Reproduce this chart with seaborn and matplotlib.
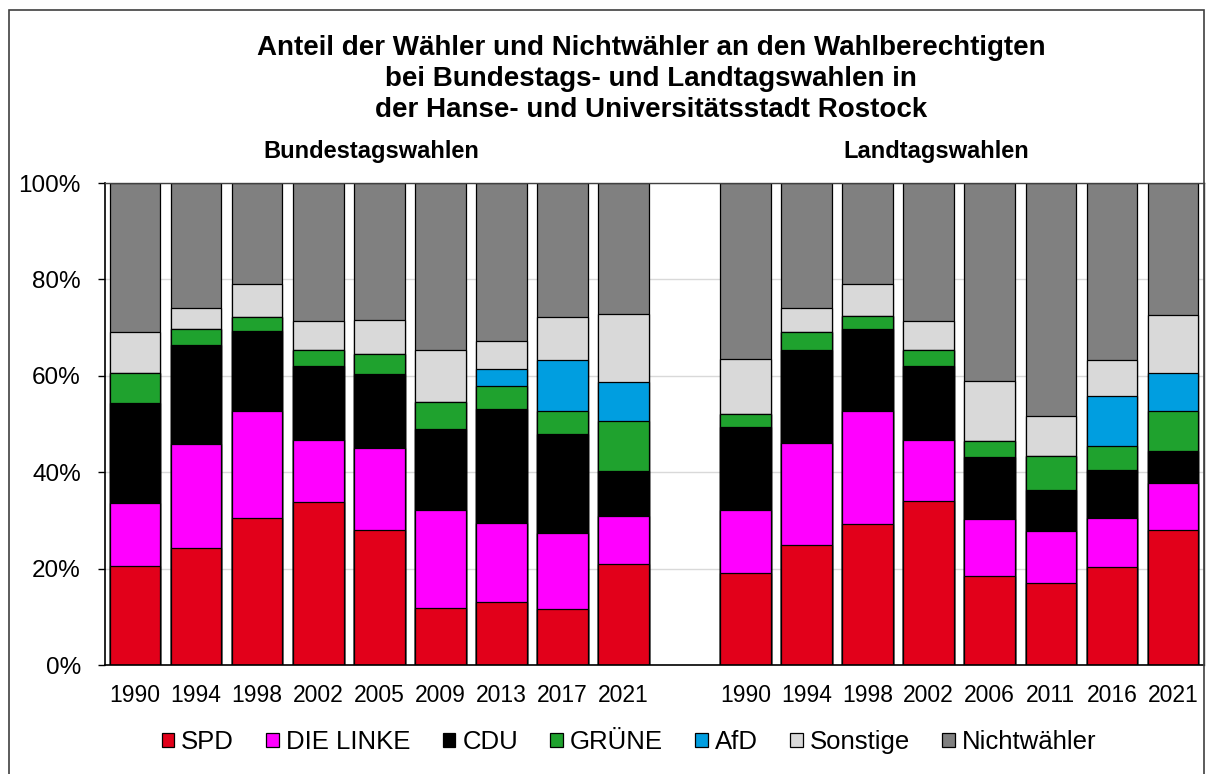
import numpy as np
import pandas as pd
import seaborn as sns
import matplotlib.pyplot as plt
from matplotlib.patches import Patch, Rectangle

# Bundestagswahlen (Anteile an den Wahlberechtigten in %)
bt_years = ["1990", "1994", "1998", "2002", "2005", "2009", "2013", "2017", "2021"]
bt_spd = [20.6, 24.2, 30.6, 33.9, 28.1, 11.8, 13.1, 11.7, 21.0]
bt_linke = [13.0, 21.7, 22.0, 12.7, 16.9, 20.4, 16.4, 15.7, 9.9]
bt_cdu = [20.8, 20.5, 16.7, 15.4, 15.4, 16.7, 23.6, 20.5, 9.4]
bt_gruene = [6.1, 3.4, 3.0, 3.4, 4.1, 5.7, 4.7, 4.9, 10.3]
bt_afd = [0, 0, 0, 0, 0, 0, 3.7, 10.5, 8.2]
bt_sonst = [8.6, 4.3, 6.7, 6.0, 7.0, 10.8, 5.7, 8.9, 14.0]
bt_nicht = [30.9, 25.9, 21.0, 28.6, 28.5, 34.6, 32.8, 27.8, 27.2]

# Landtagswahlen
lt_years = ["1990", "1994", "1998", "2002", "2006", "2011", "2016", "2021"]
lt_spd = [19.1, 24.9, 29.2, 34.0, 18.5, 17.1, 20.3, 28.0]
lt_linke = [13.0, 21.1, 23.4, 12.6, 11.8, 10.7, 10.2, 9.7]
lt_cdu = [17.2, 19.3, 17.2, 15.4, 12.9, 8.5, 9.9, 6.7]
lt_gruene = [2.7, 3.7, 2.7, 3.3, 3.2, 7.1, 5.0, 8.4]
lt_afd = [0, 0, 0, 0, 0, 0, 10.4, 7.7]
lt_sonst = [11.5, 5.0, 6.6, 6.1, 12.5, 8.2, 7.4, 12.2]
lt_nicht = [36.5, 26.0, 20.9, 28.6, 41.1, 48.4, 36.8, 27.3]

parties = ["SPD", "DIE LINKE", "CDU", "GRÜNE", "AfD", "Sonstige", "Nichtwähler"]
colors = ["#E2001A", "#FF00FF", "#000000", "#1FA22E", "#009EE0", "#D9D9D9", "#808080"]

bt = [bt_spd, bt_linke, bt_cdu, bt_gruene, bt_afd, bt_sonst, bt_nicht]
lt = [lt_spd, lt_linke, lt_cdu, lt_gruene, lt_afd, lt_sonst, lt_nicht]

# slots: BT years, one empty slot, LT years
slots = ["BT " + y for y in bt_years] + ["gap"] + ["LT " + y for y in lt_years]
labels = bt_years + [""] + lt_years

rows = []
for i, p in enumerate(parties):
    bt_cum = np.sum(bt[:i + 1], axis=0)
    lt_cum = np.sum(lt[:i + 1], axis=0)
    for y, v in zip(bt_years, bt_cum):
        rows.append({"slot": "BT " + y, "party": p, "cum": v})
    for y, v in zip(lt_years, lt_cum):
        rows.append({"slot": "LT " + y, "party": p, "cum": v})
df = pd.DataFrame(rows)

sns.set_style("white")
plt.rcParams["font.family"] = ["Liberation Sans", "DejaVu Sans"]
plt.rcParams["text.color"] = "black"
plt.rcParams["xtick.color"] = "black"
plt.rcParams["ytick.color"] = "black"

fig = plt.figure(figsize=(12.14, 7.74), dpi=100)
ax = fig.add_axes([104.5 / 1214, 109 / 774, 1099 / 1214, 482 / 774])

# stacked bars: draw cumulative totals from the top layer down
for p, c in reversed(list(zip(parties, colors))):
    sns.barplot(data=df[df["party"] == p], x="slot", y="cum", order=slots,
                color=c, saturation=1, width=0.83, edgecolor="black",
                linewidth=0.9, errorbar=None, ax=ax)

ax.set_xlim(-0.5, len(slots) - 0.5)
ax.set_ylim(0, 100)
ax.set_xlabel("")
ax.set_ylabel("")
ax.set_yticks(range(0, 101, 20))
ax.set_yticklabels([f"{v}%" for v in range(0, 101, 20)], fontsize=17.5, color="black")
ax.set_xticks(range(len(slots)))
ax.set_xticklabels(labels, fontsize=16.5, color="black")
ax.set_xticks(np.arange(-0.5, len(slots), 1), minor=True)
ax.tick_params(axis="x", which="major", length=0, pad=14)
ax.tick_params(axis="x", which="minor", length=5, width=1, color="black", direction="out")
ax.tick_params(axis="y", length=5, width=1, color="black", direction="out", pad=12, left=True)
ax.yaxis.grid(True, color="#D9D9D9", linewidth=1)
ax.xaxis.grid(False)
ax.set_axisbelow(True)
for s in ["left", "bottom"]:
    ax.spines[s].set_color("black")
    ax.spines[s].set_linewidth(1.2)
for s in ["top", "right"]:
    ax.spines[s].set_color("#404040")
    ax.spines[s].set_linewidth(1)

fig.text(651 / 1214, 1 - 35 / 774,
         "Anteil der Wähler und Nichtwähler an den Wahlberechtigten\n"
         "bei Bundestags- und Landtagswahlen in\n"
         "der Hanse- und Universitätsstadt Rostock",
         ha="center", va="top", fontsize=20, fontweight="bold", linespacing=1.25,
         color="black")
fig.text(371 / 1214, 1 - 158 / 774, "Bundestagswahlen", ha="center", va="baseline",
         fontsize=17, fontweight="bold", color="black")
fig.text(936 / 1214, 1 - 158 / 774, "Landtagswahlen", ha="center", va="baseline",
         fontsize=17, fontweight="bold", color="black")

handles = [Patch(facecolor=c, edgecolor="black", linewidth=0.9) for c in colors]
leg = fig.legend(handles, parties, loc="center", bbox_to_anchor=(629 / 1214, 1 - 742 / 774),
                 ncol=7, frameon=False, fontsize=18.5, handlelength=0.5, handleheight=0.5,
                 handletextpad=0.27, columnspacing=1.25)
for t in leg.get_texts():
    t.set_color("black")

# chart border
fig.add_artist(Rectangle((9 / 1214, -0.05), 1195 / 1214, 1.05 - 10 / 774,
                         transform=fig.transFigure, fill=False,
                         edgecolor="#404040", linewidth=1.2))

fig.savefig("out.png", dpi=100)
